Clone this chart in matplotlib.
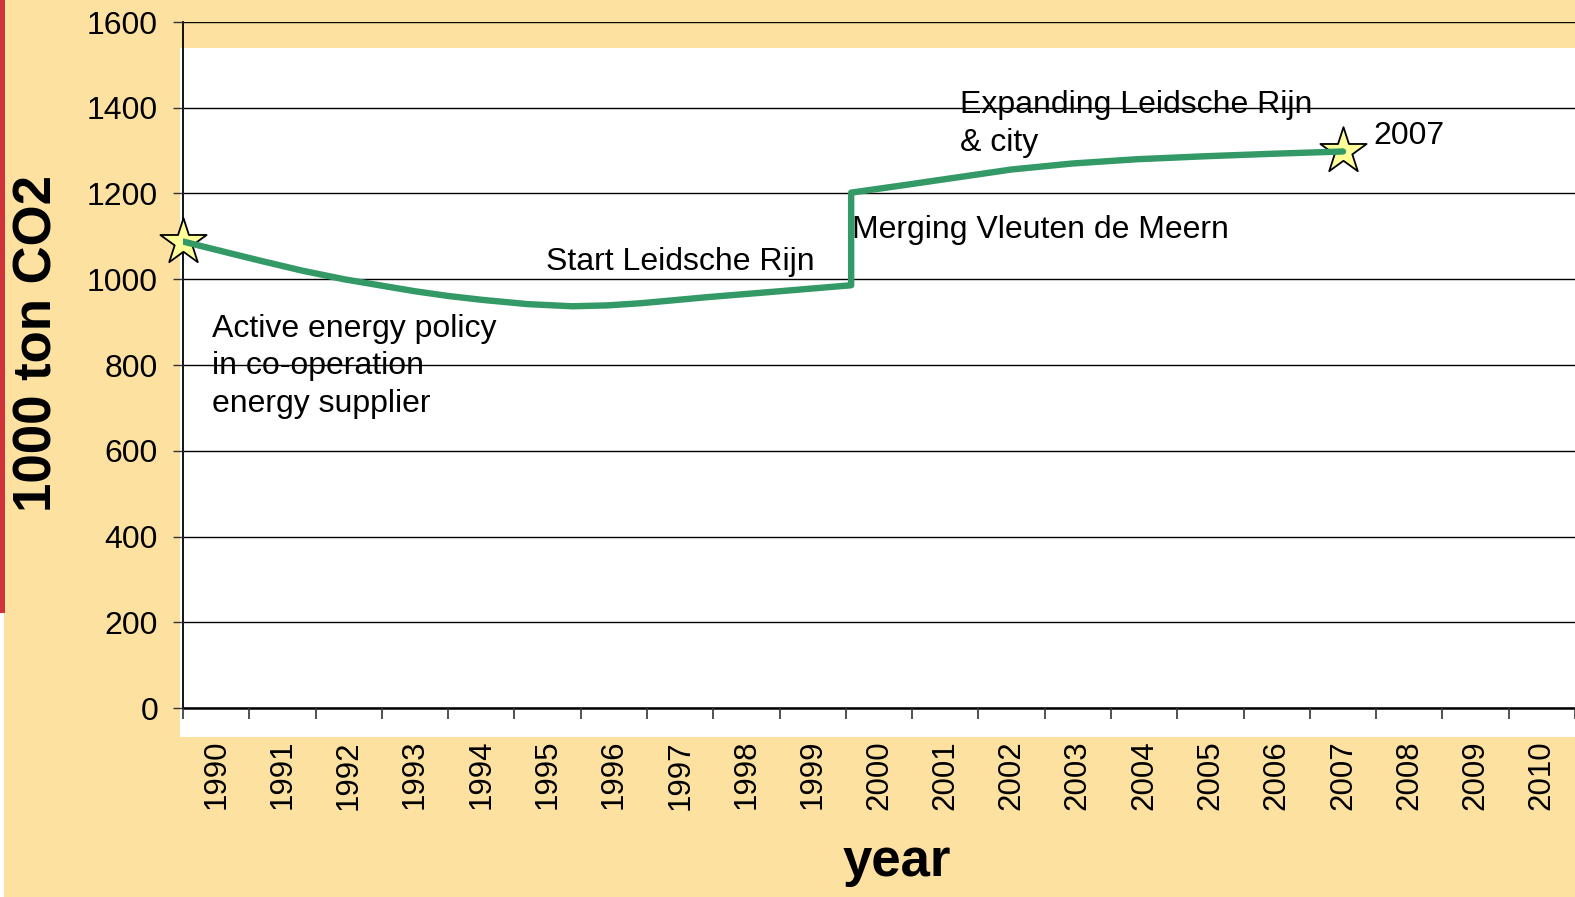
import matplotlib
matplotlib.use("Agg")
import matplotlib.pyplot as plt
from matplotlib.patches import Rectangle

plt.rcParams['font.family'] = ['Liberation Sans', 'DejaVu Sans']

# categories on the x axis
years = list(range(1990, 2011))
y_ticks = [0, 200, 400, 600, 800, 1000, 1200, 1400, 1600]

# emission curve (years as floats, category centres at whole years)
x_before = [1989.5, 1990.2, 1990.7, 1991.3, 1991.93, 1992.5, 1993.0, 1993.5, 1994.01,
            1994.7, 1995.37, 1995.9, 1996.4, 1996.9, 1997.39, 1998.5, 1999.58]
co2_before = [1088, 1061, 1042, 1020, 1000, 985, 972, 961, 952,
              942, 937, 939, 944, 951, 958, 972, 986]
x_after = [1999.58, 2000.4, 2001.2, 2002.0, 2002.92, 2003.9, 2004.94, 2006.0, 2007.0]
co2_after = [1202, 1220, 1238, 1256, 1270, 1280, 1287, 1293, 1298]

x_all = x_before + x_after
co2_all = co2_before + co2_after

orange = '#FDE1A0'
green = '#339966'

fig = plt.figure(figsize=(15.75, 8.97), dpi=100)
fig.patch.set_facecolor(orange)

W, H = 1575.0, 897.0
# white plot area and the red strip on the left
fig.add_artist(Rectangle((180 / W, 1 - 737 / H), 1395 / W, 689 / H,
                         transform=fig.transFigure, facecolor='white',
                         edgecolor='none', zorder=-2))
fig.add_artist(Rectangle((0, 1 - 613 / H), 5 / W, 613 / H,
                         transform=fig.transFigure, facecolor='#D0343A',
                         edgecolor='none', zorder=-1))
fig.add_artist(Rectangle((0, 0), 4 / W, 1 - 613 / H,
                         transform=fig.transFigure, facecolor='white',
                         edgecolor='none', zorder=-1))

ax = fig.add_axes([183 / W, 1 - 708 / H, 1392 / W, 686 / H])
ax.set_facecolor('none')

ax.plot(x_all, co2_all, color=green, lw=4.6, zorder=4,
        solid_capstyle='round', solid_joinstyle='round')
ax.scatter([x_all[0], x_all[-1]], [co2_all[0], co2_all[-1]], marker='*',
           s=35 ** 2, facecolor='#FFFF99', edgecolor='black', linewidth=1.3,
           zorder=3, clip_on=False)

ax.set_xlim(1989.5, 2010.5)
ax.set_ylim(0, 1600)

# ticks at category boundaries, labels at category centres
ax.set_xticks([y - 0.5 for y in years] + [2010.5])
ax.set_xticklabels([])
ax.set_xticks(years, minor=True)
ax.set_xticklabels([str(y) for y in years], minor=True, rotation=90, fontsize=22.5)
ax.tick_params(axis='x', which='major', length=8, width=1.2, direction='out', colors='#333333')
ax.tick_params(axis='x', which='minor', length=0, pad=23)

ax.set_yticks(y_ticks)
ax.set_yticklabels([str(v) for v in y_ticks], fontsize=23)
ax.tick_params(axis='y', length=7, width=1.0, pad=11, colors='#333333', labelcolor='black')
ax.tick_params(axis='x', labelcolor='black')

ax.yaxis.grid(True, color='black', lw=1.0)
ax.set_axisbelow(False)

for s in ['top', 'right']:
    ax.spines[s].set_visible(False)
ax.spines['left'].set_linewidth(1.3)
ax.spines['bottom'].set_linewidth(1.8)

fs = 23
ax.text(1989.94, 797, 'Active energy policy\nin co-operation\nenergy supplier',
        fontsize=fs, ha='left', va='center', linespacing=1.32, zorder=2)
ax.text(1994.97, 1041, 'Start Leidsche Rijn', fontsize=fs, ha='left', va='center', zorder=2)
ax.text(1999.59, 1115, 'Merging Vleuten de Meern', fontsize=fs, ha='left', va='center', zorder=2)
ax.text(2001.22, 1362, 'Expanding Leidsche Rijn\n& city', fontsize=fs, ha='left',
        va='center', linespacing=1.32, zorder=2)
ax.text(2007.46, 1334, '2007', fontsize=fs, ha='left', va='center', zorder=2)

fig.text(38 / W, 1 - 343 / H, '1000 ton CO2', rotation=90, ha='center', va='center',
         fontsize=38, fontweight='bold')
fig.text(897 / W, 1 - 862 / H, 'year', ha='center', va='center',
         fontsize=38, fontweight='bold')

fig.savefig('out.png', dpi=100, facecolor=fig.get_facecolor())
